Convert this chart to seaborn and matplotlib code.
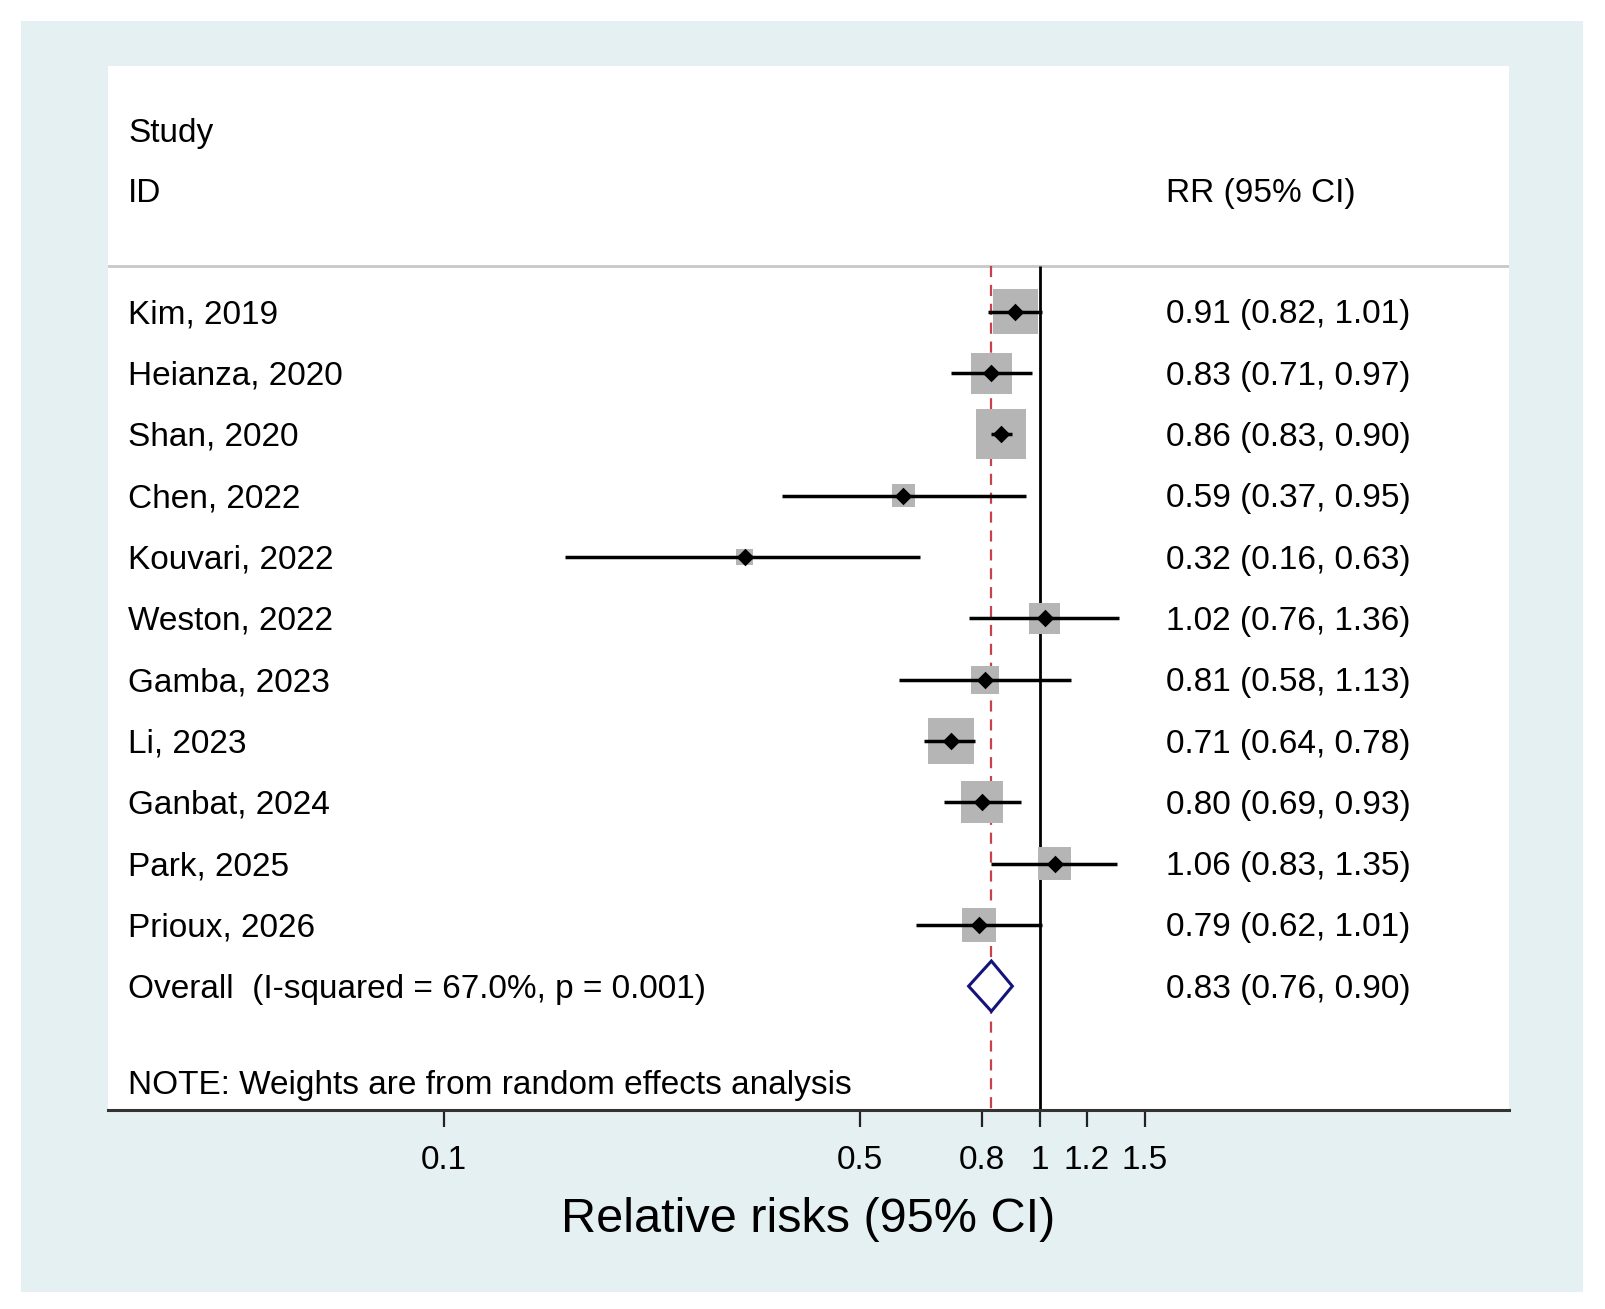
import numpy as np
import pandas as pd
import matplotlib
matplotlib.use("Agg")
import matplotlib.pyplot as plt
import matplotlib.transforms as mtransforms
from matplotlib.patches import Rectangle, Polygon
from matplotlib.ticker import NullLocator
import seaborn as sns

# data
studies = ["Kim, 2019", "Heianza, 2020", "Shan, 2020", "Chen, 2022", "Kouvari, 2022",
           "Weston, 2022", "Gamba, 2023", "Li, 2023", "Ganbat, 2024", "Park, 2025",
           "Prioux, 2026"]
rr = [0.91, 0.83, 0.86, 0.59, 0.32, 1.02, 0.81, 0.71, 0.80, 1.06, 0.79]
lower = [0.82, 0.71, 0.83, 0.37, 0.16, 0.76, 0.58, 0.64, 0.69, 0.83, 0.62]
upper = [1.01, 0.97, 0.90, 0.95, 0.63, 1.36, 1.13, 0.78, 0.93, 1.35, 1.01]
weights = [13.6, 11.3, 16.8, 3.5, 1.9, 6.4, 5.3, 14.5, 11.7, 7.3, 7.7]  # % (estimated)
overall_rr, overall_lo, overall_hi = 0.83, 0.76, 0.90
overall_label = "Overall  (I-squared = 67.0%, p = 0.001)"
tick_values = [0.1, 0.5, 0.8, 1, 1.2, 1.5]
tick_labels = ["0.1", "0.5", "0.8", "1", "1.2", "1.5"]

df = pd.DataFrame({"study": studies, "rr": rr, "lo": lower, "hi": upper, "weight": weights})
df["row"] = np.arange(len(df))
overall_row = len(df)

sns.set_style("white")
plt.rcParams['font.family'] = ['Liberation Sans', 'DejaVu Sans']
plt.rcParams['text.color'] = 'black'
plt.rcParams['xtick.color'] = 'black'
plt.rcParams['xtick.labelcolor'] = 'black'

W, H = 1605, 1309
fig = plt.figure(figsize=(W / 100, H / 100), dpi=100)
fig.patch.set_facecolor("white")
fig.patches.append(Rectangle((21 / W, 1 - 1292 / H), (1583 - 21) / W, (1292 - 21) / H,
                             transform=fig.transFigure, facecolor="#e5f0f2",
                             edgecolor="none", zorder=-10))

ax = fig.add_axes([108 / W, 1 - 1110 / H, 1401 / W, 1044 / H])
ax.set_facecolor("white")
ax.set_xscale("log")
ax.set_xlim(0.0273, 6.137)
ax.set_ylim(13.02, -4.01)

header_line = -0.745
ybottom = 13.02

# reference lines
ax.axhline(header_line, color="#c8c8c8", lw=2, zorder=1)
ax.vlines(1, header_line, ybottom, color="black", lw=2, zorder=1)
ax.vlines(overall_rr, header_line, ybottom, color="#c8414b", lw=1.6,
          linestyles=(0, (5, 3.5)), zorder=1)

# weight boxes, CI lines, point estimates
k = 77.3
wmin, wmax = min(weights), max(weights)
sns.scatterplot(data=df, x="rr", y="row", size="weight", sizes=(k * wmin, k * wmax),
                size_norm=(wmin, wmax), marker="s", color="#b5b5b5", linewidth=0,
                legend=False, ax=ax, zorder=2)
ax.hlines(df["row"], df["lo"], df["hi"], color="black", lw=2.5, zorder=3)
sns.scatterplot(data=df, x="rr", y="row", marker="D", s=80, color="black",
                linewidth=0, legend=False, ax=ax, zorder=4)

# overall diamond
dh = 0.41
diamond = Polygon([(overall_lo, overall_row), (overall_rr, overall_row - dh),
                   (overall_hi, overall_row), (overall_rr, overall_row + dh)],
                  closed=True, facecolor="white", edgecolor="#14147a", lw=2.2, zorder=5)
ax.add_patch(diamond)

# text columns
trans = mtransforms.blended_transform_factory(ax.transAxes, ax.transData)
left_x, right_x = 0.0143, 0.755
fs = 24
dy = 0.05
ax.text(left_x, -2.96 + dy, "Study", transform=trans, va="center", fontsize=fs)
ax.text(left_x, -1.98 + dy, "ID", transform=trans, va="center", fontsize=fs)
ax.text(right_x, -1.98 + dy, "RR (95% CI)", transform=trans, va="center", fontsize=fs)
for _, r in df.iterrows():
    ax.text(left_x, r["row"] + dy, r["study"], transform=trans, va="center", fontsize=fs)
    ax.text(right_x, r["row"] + dy, f"{r['rr']:.2f} ({r['lo']:.2f}, {r['hi']:.2f})",
            transform=trans, va="center", fontsize=fs)
ax.text(left_x, overall_row + dy, overall_label, transform=trans, va="center", fontsize=fs)
ax.text(right_x, overall_row + dy,
        f"{overall_rr:.2f} ({overall_lo:.2f}, {overall_hi:.2f})",
        transform=trans, va="center", fontsize=fs)
ax.text(left_x, 12.57 + dy, "NOTE: Weights are from random effects analysis",
        transform=trans, va="center", fontsize=fs)

# axes styling
ax.set_xticks(tick_values)
ax.set_xticklabels(tick_labels)
ax.xaxis.set_minor_locator(NullLocator())
ax.set_yticks([])
ax.set_xlabel("")
ax.set_ylabel("")
ax.tick_params(axis="x", length=12, width=1.6, color="#222222", labelcolor="black",
               labelsize=fs, pad=13, direction="out", bottom=True)
for side in ["top", "left", "right"]:
    ax.spines[side].set_visible(False)
ax.spines["bottom"].set_color("#333333")
ax.spines["bottom"].set_linewidth(2.2)

fig.text(808.5 / W, 1 - 1219 / H, "Relative risks (95% CI)", ha="center", va="center",
         fontsize=35, color="black")

fig.savefig("out.png", dpi=100)
